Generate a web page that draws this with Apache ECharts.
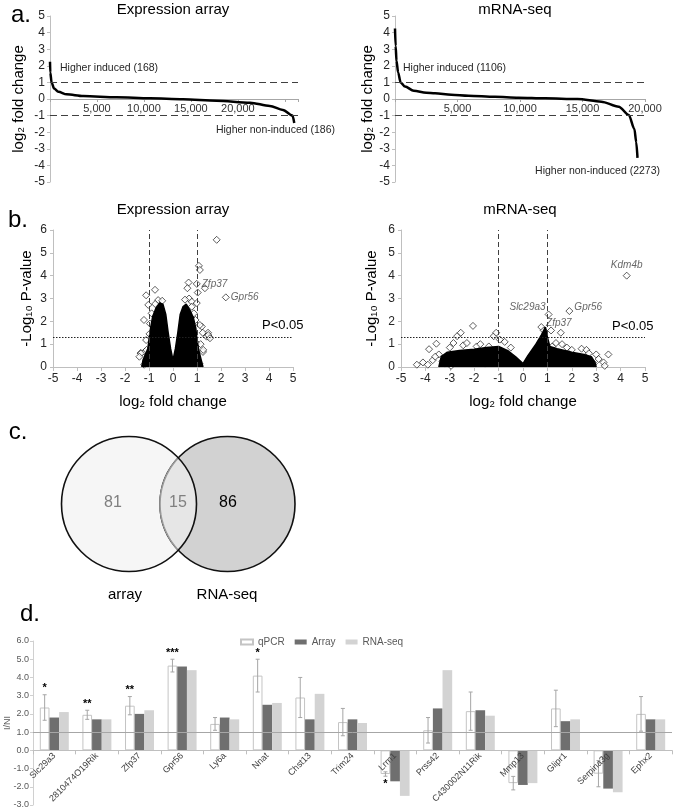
<!DOCTYPE html>
<html><head><meta charset="utf-8">
<script src="https://cdn.jsdelivr.net/npm/echarts@6/dist/echarts.min.js"></script>
<style>html,body{margin:0;padding:0;background:#fff}#c{width:675px;height:810px}</style>
</head><body><div id="c"></div>
<script>
// ---------- Panel a: ranked log2 fold change curves ----------
const arrayRank = [0, 30, 168, 430, 890, 1770, 3550, 7100, 10650, 14170, 17740, 21300, 23400, 24800, 25814, 26000];
const arrayLfc  = [2.25, 1.6, 1.0, 0.64, 0.44, 0.28, 0.18, 0.1, 0.04, -0.02, -0.1, -0.22, -0.42, -0.66, -1.0, -1.45];
const seqRank = [0, 50, 120, 250, 450, 800, 1500, 2500, 3200, 4500, 5870, 8000, 9870, 12000, 14600, 16500, 17900, 18700, 19150, 19300, 19400];
const seqLfc  = [4.25, 3.2, 2.3, 1.6, 1.0, 0.75, 0.5, 0.38, 0.34, 0.26, 0.2, 0.13, 0.08, 0.04, 0.0, -0.16, -0.46, -0.96, -1.8, -2.6, -3.55];
const foldThresholds = [1, -1];
const countLabelsArray = ['Higher induced (168)', 'Higher non-induced (186)'];
const countLabelsSeq = ['Higher induced (1106)', 'Higher non-induced (2273)'];

// ---------- Panel b: volcano plots ----------
const arrayCloudX = [-1.3, -1.25, -1.05, -0.95, -0.85, -0.7, -0.55, -0.42, -0.3, -0.2, -0.1, 0, 0.1, 0.2, 0.3, 0.42, 0.55, 0.7, 0.85, 0.95, 1.0, 1.08, 1.2, 1.25];
const arrayCloudY = [0, 0.3, 0.8, 1.6, 2.2, 2.6, 2.8, 2.75, 2.3, 1.5, 0.8, 0.3, 0.8, 1.5, 2.3, 2.65, 2.75, 2.5, 2.15, 1.7, 1.2, 0.7, 0.2, 0];
const arrayPtsX = [1.82, 1.08, 1.12, 0.99, 0.65, 0.6, 1.33, 1.03, 2.2, -1.12, -0.75, 0.67, 0.78, -0.62, 1.2, 1.46, 1.5, 1.25, -1.35, -1.17, -1.33, -1.1, -1.07, -0.89, -0.96, 1.12, 1.24, 1.26, 1.4, 1.47, 1.54, 0.99, 0.78, 0.87, 0.94, 0.99, 0.99, 1.05, -1.21, -1.12, -1.03, -0.74, -0.98, -1.0, 1.1, 1.15, -1.2, -1.4, 0.5, -0.45];
const arrayPtsY = [5.57, 4.43, 4.25, 3.64, 3.7, 3.45, 3.45, 3.26, 3.05, 3.14, 3.38, 3.0, 2.86, 2.93, 1.77, 1.5, 1.33, 0.66, 0.61, 0.67, 0.6, 0.75, 0.3, 2.35, 1.9, 1.84, 1.5, 0.75, 1.33, 1.4, 1.26, 2.8, 2.64, 2.35, 2.06, 1.04, 0.45, 0.23, 2.06, 1.18, 2.72, 2.76, 1.45, 0.5, 0.15, 1.0, 0.1, 0.45, 2.95, 2.9];
const arrayGenes = [{name: 'Zfp37', x: 0.99, y: 3.64, pos: 'right'}, {name: 'Gpr56', x: 2.2, y: 3.05, pos: 'right'}];

const seqCloudX = [-3.45, -3.35, -3.1, -2.6, -2.0, -1.5, -1.0, -0.6, -0.3, 0, 0.2, 0.5, 0.75, 0.92, 1.0, 1.1, 1.4, 2.0, 2.5, 2.8, 2.95, 3.0];
const seqCloudY = [0, 0.45, 0.65, 0.72, 0.78, 0.85, 0.9, 0.7, 0.45, 0.15, 0.5, 0.95, 1.4, 1.75, 1.3, 0.9, 0.8, 0.65, 0.55, 0.45, 0.2, 0];
const seqPtsX = [-4.35, -4.1, -3.9, -3.85, -3.7, -3.55, -3.45, -3.2, -3.0, -2.95, -2.85, -2.7, -2.55, -2.45, -2.3, -2.2, -2.05, -1.9, -1.75, -1.55, -1.4, -1.2, -1.1, -0.95, -0.75, -0.5, 0.75, 0.85, 1.15, 1.2, 1.35, 1.55, 1.6, 1.8, 2.0, 2.2, 2.4, 2.45, 2.6, 2.7, 2.9, 3.0, 3.1, 3.3, 3.5, 3.35, 1.05, 1.9, 4.25, -3.6, -3.3, -2.9];
const seqPtsY = [0.1, 0.2, 0.1, 0.78, 0.3, 1.02, 0.55, 0.15, 0.85, 0.05, 1.05, 1.35, 1.5, 0.95, 1.05, 0.3, 1.8, 0.9, 1.0, 0.15, 0.9, 1.35, 1.5, 1.2, 1.1, 0.85, 1.75, 1.6, 1.6, 0.9, 1.05, 1.5, 1.0, 0.85, 0.75, 0.35, 0.8, 0.2, 0.75, 0.6, 0.15, 0.55, 0.35, 0.2, 0.55, 0.05, 2.3, 2.45, 4.0, 0.45, 0.25, 0.35];
const seqGenes = [{name: 'Kdm4b', x: 4.25, y: 4.0, pos: 'top', off: [0, 0]}, {name: 'Slc29a3', x: 1.05, y: 2.3, pos: 'left', off: [2, -7]},
  {name: 'Gpr56', x: 1.9, y: 2.45, pos: 'right', off: [0, -4]}, {name: 'Zfp37', x: 1.55, y: 1.5, pos: 'top', off: [-2, 0]}];
const pThreshold = 1.3;

// ---------- Panel c: Venn ----------
const vennSets = ['array', 'RNA-seq'];
const vennCounts = [81, 15, 86]; // array only, both, RNA-seq only

// ---------- Panel d: validation ----------
const genes = ['Slc29a3', '2810474O19Rik', 'Zfp37', 'Gpr56', 'Ly6a', 'Nnat', 'Chst13', 'Trim24', 'Lrrn1', 'Prss42', 'C430002N11Rik', 'Mmp13', 'Glipr1', 'Serpina3g', 'Ephx2'];
const qpcr   = [2.35, 1.95, 2.45, 4.65, 1.45, 4.1, 2.9, 1.55, -1.3, 1.1, 2.15, -1.8, 2.3, -1.28, 2.0];
const qpcrErr = [0.7, 0.25, 0.5, 0.35, 0.35, 0.9, 1.1, 0.75, 0.12, 0.7, 1.05, 0.37, 1.0, 0.72, 0.95];
const arrayFc = [1.8, 1.7, 2.0, 4.6, 1.8, 2.5, 1.7, 1.7, -1.7, 2.3, 2.2, -1.9, 1.6, -2.1, 1.7];
const rnaseqFc = [2.1, 1.7, 2.2, 4.4, 1.7, 2.6, 3.1, 1.5, -2.5, 4.4, 1.9, -1.8, 1.7, -2.3, 1.7];
const signif = ['*', '**', '**', '***', '', '*', '', '', '*', '', '', '', '', '', ''];
const legendNames = ['qPCR', 'Array', 'RNA-seq'];
const dMin = -3, dMax = 6;

const FONT = '"Liberation Sans", Arial, sans-serif';
const zip = (a, b) => a.map((v, i) => [v, b[i]]);

const chart = echarts.init(document.getElementById('c'), null, {renderer: 'canvas'});

// grid boxes (layout)
const GB = [[50, 16, 248, 166], [395, 16, 250, 166], [53, 230, 240, 137], [401, 230, 244, 137], [33, 641, 639, 164]];
const G = b => ({left: b[0], top: b[1], width: b[2], height: b[3], containLabel: false, outerBoundsMode: 'none'});
// offset that lifts a bottom x axis to the value 0 of its y axis
const zeroOffset = (h, min, max) => -h * (0 - min) / (max - min);

function curveAxes(gi, max) {
  return {
    x: {type: 'value', gridIndex: gi, min: 0, max: max, interval: 5000, position: 'bottom',
      offset: zeroOffset(GB[gi][3], -5, 5),
      axisLine: {onZero: false, lineStyle: {color: '#a6a6a6', width: 1}},
      axisTick: {show: true, length: 3, lineStyle: {color: '#a6a6a6'}},
      splitLine: {show: false},
      axisLabel: {fontFamily: FONT, fontSize: 11, color: '#333', margin: 4,
        formatter: v => (v > 0 && v <= 20000) ? v.toLocaleString('en-US') : ''}},
    y: {type: 'value', gridIndex: gi, min: -5, max: 5, interval: 1,
      axisLine: {show: true, onZero: false, lineStyle: {color: '#bfbfbf'}},
      axisTick: {show: true, length: 3, lineStyle: {color: '#bfbfbf'}},
      splitLine: {show: false},
      axisLabel: {fontFamily: FONT, fontSize: 12, color: '#262626', margin: 5},
      name: 'log₂ fold change', nameLocation: 'middle', nameGap: gi === 0 ? 24 : 18,
      nameTextStyle: {fontFamily: FONT, fontSize: 15, color: '#000'}}
  };
}
function volcAxes(gi, gap) {
  return {
    x: {type: 'value', gridIndex: gi, min: -5, max: 5, interval: 1,
      axisLine: {onZero: false, lineStyle: {color: '#bfbfbf'}},
      axisTick: {show: true, length: 4, lineStyle: {color: '#bfbfbf'}},
      splitLine: {show: false},
      axisLabel: {fontFamily: FONT, fontSize: 12, color: '#262626', margin: 6},
      name: 'log₂ fold change', nameLocation: 'middle', nameGap: 27,
      nameTextStyle: {fontFamily: FONT, fontSize: 15, color: '#000'}},
    y: {type: 'value', gridIndex: gi, min: 0, max: 6, interval: 1,
      axisLine: {show: true, onZero: false, lineStyle: {color: '#bfbfbf'}},
      axisTick: {show: true, length: 3, lineStyle: {color: '#bfbfbf'}},
      splitLine: {show: false},
      axisLabel: {fontFamily: FONT, fontSize: 12, color: '#262626', margin: 6},
      name: '-Log₁₀ P-value', nameLocation: 'middle', nameGap: gap,
      nameTextStyle: {fontFamily: FONT, fontSize: 15, color: '#000'}}
  };
}
const a0 = curveAxes(0, 26400), a1 = curveAxes(1, 20000);
const v0 = volcAxes(2, 19), v1 = volcAxes(3, 22);

const dashH = {symbol: 'none', silent: true, label: {show: false},
  lineStyle: {type: [7, 4], color: '#404040', width: 1.2}, data: foldThresholds.map(t => ({yAxis: t}))};
const volcLines = {symbol: 'none', silent: true, label: {show: false},
  data: [
    ...foldThresholds.map(t => ({xAxis: t, lineStyle: {type: [5, 3], color: '#404040', width: 1}})),
    {yAxis: pThreshold, lineStyle: {type: [1.5, 1.5], color: '#222', width: 1}}
  ]};

function cloudSeries(xi, xs, ys) {
  return {type: 'line', xAxisIndex: xi, yAxisIndex: xi, data: zip(xs, ys), showSymbol: false,
    smooth: false, lineStyle: {color: '#000', width: 1.5}, areaStyle: {color: '#000', opacity: 1},
    markLine: volcLines, z: 3, silent: true};
}
function ptsSeries(xi, xs, ys) {
  return {type: 'scatter', xAxisIndex: xi, yAxisIndex: xi, data: zip(xs, ys), symbol: 'diamond', symbolSize: 7,
    itemStyle: {color: '#fff', borderColor: '#000', borderWidth: 0.8}, z: 2, silent: true};
}
function geneSeries(xi, list) {
  return {type: 'scatter', xAxisIndex: xi, yAxisIndex: xi, symbolSize: 0, z: 4, silent: true,
    data: list.map(g => ({value: [g.x, g.y], name: g.name,
      label: {show: true, position: g.pos, distance: 5, offset: g.off || [0, 0], formatter: g.name, fontFamily: FONT, fontSize: 10,
        fontStyle: 'italic', color: '#404040'}}))};
}

const errData = genes.map((g, i) => [i, qpcr[i], qpcrErr[i]]);
function renderErr(params, api) {
  const i = api.value(0), v = api.value(1), e = api.value(2);
  const s = signif[i];
  const band = api.size([1, 0])[0];
  const w = band * 0.68 / 3;
  const c = api.coord([i, v]);
  const x = c[0] - w;
  const top = api.coord([i, v + e])[1], bot = api.coord([i, v - e])[1];
  const st = {stroke: '#a6a6a6', lineWidth: 1};
  const children = [
    {type: 'line', shape: {x1: x, y1: top, x2: x, y2: bot}, style: st},
    {type: 'line', shape: {x1: x - 2, y1: top, x2: x + 2, y2: top}, style: st},
    {type: 'line', shape: {x1: x - 2, y1: bot, x2: x + 2, y2: bot}, style: st}
  ];
  if (s) {
    children.push({type: 'text', x: x, y: v >= 0 ? top - 1 : bot + 2,
      style: {text: s, fill: '#000', font: 'bold 11px ' + FONT, align: 'center', verticalAlign: v >= 0 ? 'bottom' : 'top'}});
  }
  return {type: 'group', children: children};
}

// Venn geometry (layout)
const vc = {lx: 129, rx: 227.5, cy: 504, r: 67.5};
const dd = vc.rx - vc.lx, hh = Math.sqrt(vc.r * vc.r - (dd / 2) * (dd / 2));
const ang = Math.asin(hh / vc.r);
const lensPts = [], rightArc = [];
for (let k = 0; k <= 40; k++) {
  const t = -ang + 2 * ang * k / 40;
  lensPts.push([vc.lx + vc.r * Math.cos(t), vc.cy + vc.r * Math.sin(t)]);
}
for (let k = 0; k <= 40; k++) {
  const t = Math.PI - ang + 2 * ang * k / 40;
  lensPts.push([vc.rx + vc.r * Math.cos(t), vc.cy + vc.r * Math.sin(t)]);
  rightArc.push([vc.rx + vc.r * Math.cos(t), vc.cy + vc.r * Math.sin(t)]);
}

function txt(x, y, text, size, opts) {
  opts = opts || {};
  return {type: 'text', x: x, y: y, z: 100, silent: true,
    style: {text: text, font: (opts.style || '') + ' ' + size + 'px ' + FONT, fill: opts.fill || '#000',
      align: opts.align || 'center', verticalAlign: 'middle'}};
}

const option = {
  animation: false,
  backgroundColor: '#fff',
  grid: GB.map(G),
  xAxis: [a0.x, a1.x, v0.x, v1.x, {
    type: 'category', gridIndex: 4, data: genes, position: 'bottom', z: 10,
    offset: zeroOffset(GB[4][3], dMin, dMax),
    axisLine: {onZero: false, lineStyle: {color: '#bfbfbf'}},
    axisTick: {show: true, length: 4, lineStyle: {color: '#bfbfbf'}},
    axisLabel: {rotate: 45, interval: 0, fontFamily: FONT, fontSize: 9, color: '#404040', margin: 4}
  }],
  yAxis: [a0.y, a1.y, v0.y, v1.y, {
    type: 'value', gridIndex: 4, min: dMin, max: dMax, interval: 1,
    axisLine: {show: true, onZero: false, lineStyle: {color: '#d0d0d0'}},
    axisTick: {show: true, length: 3, lineStyle: {color: '#d0d0d0'}},
    splitLine: {show: false},
    axisLabel: {fontFamily: FONT, fontSize: 9, color: '#595959', margin: 4, formatter: v => v.toFixed(1)},
    name: 'I/NI', nameLocation: 'middle', nameGap: 21, nameMoveOverlap: false,
    nameTextStyle: {fontFamily: FONT, fontSize: 9, color: '#595959'}
  }],
  legend: {data: legendNames, left: 235, top: 632, itemWidth: 12, itemHeight: 5, itemGap: 10,
    icon: 'rect', textStyle: {fontFamily: FONT, fontSize: 10, color: '#595959'}},
  series: [
    {type: 'line', xAxisIndex: 0, yAxisIndex: 0, data: zip(arrayRank, arrayLfc), showSymbol: false,
      smooth: 0.3, smoothMonotone: 'x', lineStyle: {color: '#000', width: 2.5}, markLine: dashH, silent: true},
    {type: 'line', xAxisIndex: 1, yAxisIndex: 1, data: zip(seqRank, seqLfc), showSymbol: false,
      smooth: 0.3, smoothMonotone: 'x', lineStyle: {color: '#000', width: 2.5}, markLine: dashH, silent: true},
    cloudSeries(2, arrayCloudX, arrayCloudY), ptsSeries(2, arrayPtsX, arrayPtsY), geneSeries(2, arrayGenes),
    cloudSeries(3, seqCloudX, seqCloudY), ptsSeries(3, seqPtsX, seqPtsY), geneSeries(3, seqGenes),
    {name: legendNames[0], type: 'bar', xAxisIndex: 4, yAxisIndex: 4, data: qpcr, barGap: '0%', barCategoryGap: '32%',
      itemStyle: {color: '#fff', borderColor: '#c4c4c4', borderWidth: 1},
      markLine: {symbol: 'none', silent: true, label: {show: false},
        lineStyle: {type: 'solid', color: '#a6a6a6', width: 1}, data: [{yAxis: 1}]}},
    {name: legendNames[1], type: 'bar', xAxisIndex: 4, yAxisIndex: 4, data: arrayFc, barGap: '0%', barCategoryGap: '32%',
      itemStyle: {color: '#6f6f6f'}},
    {name: legendNames[2], type: 'bar', xAxisIndex: 4, yAxisIndex: 4, data: rnaseqFc, barGap: '0%', barCategoryGap: '32%',
      itemStyle: {color: '#d3d3d3'}},
    {type: 'custom', xAxisIndex: 4, yAxisIndex: 4, data: errData, renderItem: renderErr, z: 5, silent: true}
  ],
  graphic: [
    txt(21, 15, 'a.', 24), txt(18, 220, 'b.', 24), txt(18, 432, 'c.', 24), txt(30, 614, 'd.', 24),
    txt(173, 10, 'Expression array', 15), txt(515, 10, 'mRNA-seq', 15),
    txt(60, 68, countLabelsArray[0], 10.5, {align: 'left', fill: '#262626'}),
    txt(335, 130, countLabelsArray[1], 10.5, {align: 'right', fill: '#262626'}),
    txt(403, 68, countLabelsSeq[0], 10.5, {align: 'left', fill: '#262626'}),
    txt(660, 171, countLabelsSeq[1], 10.5, {align: 'right', fill: '#262626'}),
    txt(173, 210, 'Expression array', 15), txt(520, 210, 'mRNA-seq', 15),
    txt(262, 325, 'P<0.05', 13, {align: 'left'}), txt(612, 326, 'P<0.05', 13, {align: 'left'}),
    {type: 'circle', z: 90, silent: true, shape: {cx: vc.lx, cy: vc.cy, r: vc.r}, style: {fill: '#f6f6f6'}},
    {type: 'circle', z: 91, silent: true, shape: {cx: vc.rx, cy: vc.cy, r: vc.r}, style: {fill: '#d2d2d2', stroke: '#111', lineWidth: 1.6}},
    {type: 'polygon', z: 92, silent: true, shape: {points: lensPts}, style: {fill: '#e6e6e6'}},
    {type: 'polyline', z: 93, silent: true, shape: {points: rightArc}, style: {fill: null, stroke: '#999', lineWidth: 1.6}},
    {type: 'circle', z: 94, silent: true, shape: {cx: vc.lx, cy: vc.cy, r: vc.r}, style: {fill: 'none', stroke: '#111', lineWidth: 1.6}},
    txt(113, 503, String(vennCounts[0]), 16, {fill: '#808080'}),
    txt(178, 503, String(vennCounts[1]), 16, {fill: '#808080'}),
    txt(228, 503, String(vennCounts[2]), 16, {fill: '#000'}),
    txt(125, 595, vennSets[0], 15), txt(227, 595, vennSets[1], 15)
  ]
};
chart.setOption(option);
</script></body></html>
